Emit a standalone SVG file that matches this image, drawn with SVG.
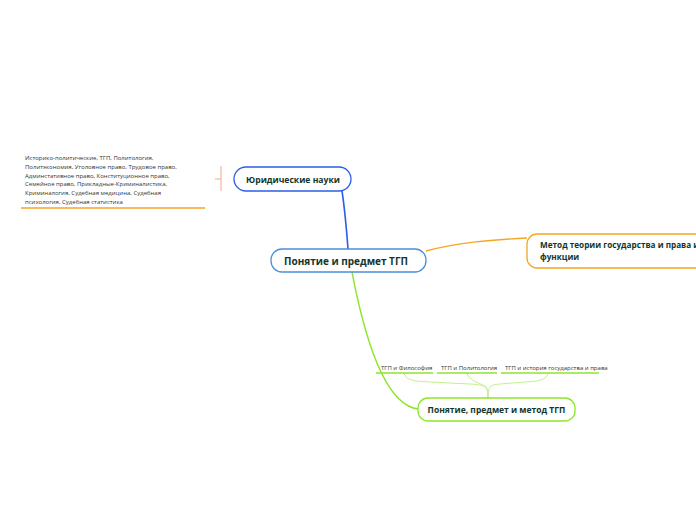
<svg xmlns="http://www.w3.org/2000/svg" width="696" height="520" viewBox="0 0 696 520">
<style>
.node{fill:#fff;stroke-width:1.3}
.t{font-family:"Open Sans","DejaVu Sans",sans-serif;font-weight:bold;fill:#12362c}
.s{font-family:"Open Sans","DejaVu Sans",sans-serif;font-size:6px;fill:#333}
.c{fill:none}
</style>
<rect width="696" height="520" fill="#fff"/>
<g id="connectors">
<path class="c" d="M348,249 C346,222 344,200 340,179" stroke="#2a5fe8" stroke-width="1.6"/>
<path class="c" d="M426,251 C460,242 490,240 527,238" stroke="#f5a623" stroke-width="1.3"/>
<path class="c" d="M352,272 C365,340 385,405 418,409" stroke="#8ee62a" stroke-width="1.4"/>
<path class="c" d="M404,373 C406,380 412,381 430,382 L470,384 C485,385 488,386 488,398" stroke="#c4f08a" stroke-width="1"/>
<path class="c" d="M467,373 C469,381 480,383 485,386 C488,388 488,392 488,398" stroke="#c4f08a" stroke-width="1"/>
<path class="c" d="M548,373 C546,380 540,381 525,382 L500,384 C490,385 488,386 488,398" stroke="#c4f08a" stroke-width="1"/>
<path class="c" d="M221,166 V191 M215,179 H221" stroke="#f0a888" stroke-width="1"/>
</g>
<g id="n-left">
<text class="s"><tspan x="25" y="160">Историко-политические, ТГП, Политология,</tspan><tspan x="25" y="169">Политэкономия, Уголовное право, Трудовое право,</tspan><tspan x="25" y="177.5">Админстативное право, Конституционное право,</tspan><tspan x="25" y="186">Семейное право, Прикладные-Криминалистика,</tspan><tspan x="25" y="195">Криминалогия, Судебная медицина, Судебная</tspan><tspan x="25" y="203.5">психология, Судебная статистика</tspan></text>
<line x1="21" y1="208" x2="205" y2="208" stroke="#f5a623" stroke-width="1.5"/>
</g>
<g id="n-jur">
<rect class="node" x="234" y="167" width="117" height="24" rx="12" stroke="#2a5fe8"/>
<text class="t" x="293" y="182.5" font-size="8.6" text-anchor="middle">Юридические науки</text>
</g>
<g id="n-center">
<rect class="node" x="271" y="249" width="155" height="23" rx="11" stroke="#4a90d9"/>
<text class="t" x="346" y="264.5" font-size="10" text-anchor="middle">Понятие и предмет ТГП</text>
</g>
<g id="n-method">
<rect class="node" x="527" y="234" width="190" height="34" rx="10" stroke="#f5a623"/>
<text class="t" font-size="8.2"><tspan x="540" y="248">Метод теории государства и права и</tspan><tspan x="540" y="259.5">функции</tspan></text>
</g>
<g id="n-subject">
<rect class="node" x="418" y="398" width="157" height="23" rx="10" stroke="#8ee62a"/>
<text class="t" x="496.5" y="413" font-size="8.5" text-anchor="middle">Понятие, предмет и метод ТГП</text>
</g>
<g id="n-phil">
<text class="s" x="381" y="369.5">ТГП и Философия</text>
<line x1="376" y1="373" x2="433" y2="373" stroke="#8ee62a" stroke-width="1.4"/>
</g>
<g id="n-pol">
<text class="s" x="441" y="369.5">ТГП и Политология</text>
<line x1="437" y1="373" x2="497" y2="373" stroke="#8ee62a" stroke-width="1.4"/>
</g>
<g id="n-hist">
<text class="s" x="505" y="369.5">ТГП и история государства и права</text>
<line x1="501" y1="373" x2="599" y2="373" stroke="#8ee62a" stroke-width="1.4"/>
</g>
</svg>
